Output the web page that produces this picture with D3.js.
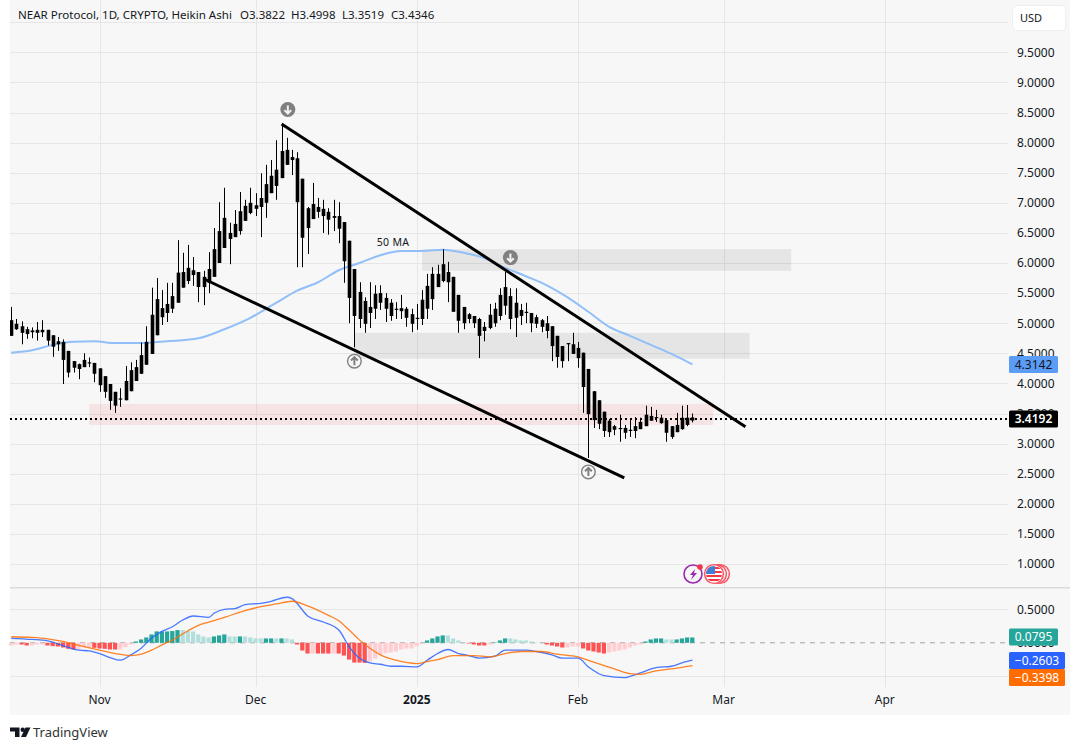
<!DOCTYPE html>
<html><head><meta charset="utf-8">
<script src="https://cdn.jsdelivr.net/npm/d3@7/dist/d3.min.js"></script>
<style>
html,body{margin:0;padding:0;background:#fff;overflow:hidden}
svg{display:block}
text{font-family:"Noto Sans",sans-serif;fill:#131722}
.tick line{shape-rendering:crispEdges}
</style></head><body><svg id="c" width="1080" height="750"></svg>
<script>
// Daily Heikin Ashi candles, day 0 = 2024-10-15
const high=[5.27,5.07,5.03,4.94,4.93,5.02,5.05,4.89,4.80,4.77,4.73,4.54,4.37,4.33,4.50,4.43,4.34,4.25,4.12,3.99,
3.86,3.92,4.29,4.35,4.39,4.68,4.95,5.59,5.75,5.55,5.67,5.67,6.38,6.17,6.30,6.10,5.85,5.87,6.18,6.58,
7.01,7.25,6.67,6.88,7.18,7.05,7.25,7.16,7.49,7.63,7.71,8.04,8.29,8.08,7.88,7.84,7.40,6.93,7.33,7.08,
7.05,6.91,7.05,7.01,6.68,6.37,5.90,5.68,5.43,5.68,5.63,5.63,5.50,5.40,5.35,5.47,5.27,5.24,5.32,5.55,
5.82,5.93,5.97,6.23,6.02,5.77,5.47,5.27,5.17,5.12,5.09,5.02,5.32,5.34,5.58,5.85,5.58,5.58,5.32,5.34,
5.17,5.14,5.07,5.12,4.95,4.79,4.62,4.67,4.84,4.69,4.51,4.24,3.87,3.72,3.53,3.41,3.31,3.48,3.31,3.39,
3.44,3.43,3.63,3.61,3.56,3.48,3.39,3.29,3.51,3.63,3.64,3.4998];
const low=[4.79,4.89,4.65,4.74,4.75,4.71,4.77,4.63,4.44,4.54,3.99,4.10,4.18,4.07,4.27,4.27,4.02,3.86,3.76,3.56,
3.51,3.61,3.72,3.87,4.04,4.16,4.31,4.49,4.80,4.97,5.02,5.17,5.34,5.59,5.65,5.62,5.35,5.30,5.50,5.77,
6.00,6.25,5.98,6.43,6.47,6.70,6.81,6.78,6.43,6.75,7.16,7.05,7.41,7.63,7.46,5.93,5.93,6.15,6.73,6.75,
6.50,6.47,6.53,6.33,5.67,5.00,4.60,4.92,4.84,4.92,5.07,5.22,5.02,5.04,5.07,5.07,4.94,4.85,4.89,4.97,
5.07,5.22,5.60,5.68,5.35,5.19,4.84,4.90,5.00,4.92,4.42,4.70,4.90,4.94,5.05,5.14,4.90,4.77,4.97,5.00,
4.85,4.92,4.85,4.75,4.37,4.26,4.26,4.37,4.49,4.26,3.51,2.76,3.26,3.24,3.11,3.11,3.14,3.03,3.08,3.11,
3.09,3.24,3.29,3.38,3.36,3.33,3.03,3.08,3.19,3.23,3.29,3.3519];
const bodyTop=[5.05,4.99,4.95,4.90,4.88,4.89,4.89,4.89,4.80,4.70,4.69,4.54,4.37,4.32,4.39,4.35,4.34,4.25,4.12,3.99,
3.86,3.75,4.04,4.22,4.27,4.47,4.69,5.14,5.40,5.25,5.32,5.45,5.84,5.85,5.92,5.88,5.85,5.77,5.90,6.23,
6.53,6.75,6.50,6.65,6.86,6.95,7.00,6.96,7.08,7.31,7.45,7.55,7.86,7.88,7.76,7.74,7.40,6.91,6.98,6.93,
6.90,6.85,6.78,6.78,6.68,6.37,5.90,5.52,5.37,5.27,5.49,5.50,5.42,5.34,5.24,5.25,5.24,5.15,5.09,5.39,
5.62,5.82,5.82,5.98,5.85,5.77,5.47,5.27,5.15,5.12,5.07,4.94,5.14,5.24,5.47,5.60,5.45,5.34,5.22,5.19,
5.17,5.10,5.05,5.00,4.95,4.79,4.62,4.67,4.65,4.59,4.51,4.24,3.87,3.72,3.53,3.38,3.29,3.26,3.26,3.23,
3.29,3.36,3.48,3.46,3.44,3.43,3.39,3.29,3.31,3.43,3.43,3.4346];
const bodyBottom=[4.79,4.90,4.84,4.82,4.85,4.84,4.85,4.71,4.61,4.65,4.39,4.18,4.26,4.24,4.27,4.33,4.16,3.97,3.86,3.71,
3.63,3.73,3.72,3.87,4.04,4.16,4.31,4.49,4.80,5.10,5.17,5.24,5.34,5.59,5.70,5.80,5.60,5.60,5.67,5.77,
6.00,6.25,6.40,6.43,6.53,6.70,6.83,6.90,6.93,7.00,7.16,7.28,7.41,7.63,7.71,7.01,6.42,6.58,6.73,6.85,
6.78,6.72,6.75,6.57,6.03,5.42,5.12,5.07,4.99,5.17,5.24,5.34,5.24,5.12,5.22,5.20,5.09,4.99,5.07,5.07,
5.24,5.40,5.60,5.70,5.68,5.19,5.04,5.00,5.07,5.00,4.79,4.87,4.92,5.00,5.12,5.29,5.07,5.09,5.12,5.17,
5.00,4.99,4.94,4.87,4.62,4.44,4.37,4.65,4.49,4.42,3.94,3.49,3.39,3.33,3.21,3.19,3.23,3.24,3.18,3.21,
3.21,3.24,3.29,3.38,3.43,3.34,3.18,3.11,3.19,3.24,3.31,3.3822];

// 50 MA readings
const maDay=[0,4,8,12,16,20,25,30,36,41,46,51,55,59,63,67,71,75,79,83,87,91,95,99,103,107,111,115,119,123,127,131];
const maValue=[4.51,4.55,4.64,4.69,4.70,4.67,4.67,4.70,4.75,4.90,5.09,5.34,5.54,5.68,5.88,6.00,6.13,6.20,6.20,6.22,6.17,6.08,5.92,5.78,5.63,5.43,5.19,4.94,4.79,4.64,4.49,4.3142];

// MACD pane
const macdDay=[0,4,7,11,13,15,17,19,21,23,25,27,29,31,33,35,38,39,41,43,45,48,50,53,54,56,57,60,63,65,67,69,71,73,75,78,80,82,84,86,88,90,93,95,99,101,104,106,109,111,114,118,119,121,124,127,129,131];
const macdValue=[.067,.05,.03,-.07,-.11,-.12,-.16,-.22,-.26,-.18,-.08,.07,.17,.24,.34,.40,.38,.44,.50,.51,.57,.59,.62,.68,.66,.49,.40,.31,.19,-.06,-.23,-.30,-.32,-.35,-.35,-.36,-.26,-.16,-.10,-.16,-.19,-.23,-.20,-.11,-.11,-.13,-.18,-.23,-.23,-.36,-.49,-.52,-.50,-.45,-.37,-.35,-.30,-.2603];
const signalDay=[0,4,7,10,13,17,20,23,25,27,29,31,34,36,38,41,45,48,51,54,57,61,63,65,67,69,71,74,78,80,82,85,89,92,95,98,102,105,109,112,116,119,121,124,127,131];
const signalValue=[.09,.08,.06,.02,-.04,-.11,-.16,-.19,-.17,-.11,-.03,.04,.18,.26,.31,.38,.48,.54,.58,.62,.55,.41,.33,.19,.04,-.08,-.18,-.26,-.31,-.28,-.25,-.19,-.19,-.21,-.16,-.13,-.13,-.17,-.21,-.29,-.39,-.46,-.47,-.42,-.39,-.3398];
const histValue=[-.04,-.025,-.025,-.04,-.04,-.025,-.025,-.04,-.05,-.055,-.07,-.09,-.10,-.10,-.065,-.065,-.075,-.085,-.09,-.10,
-.10,-.10,-.065,-.025,.02,.05,.08,.125,.17,.17,.17,.175,.19,.19,.175,.17,.125,.095,.08,.095,
.11,.125,.095,.095,.095,.095,.08,.065,.065,.065,.065,.065,.065,.065,.05,-.025,-.115,-.16,-.16,-.16,
-.16,-.16,-.16,-.16,-.19,-.25,-.295,-.295,-.30,-.28,-.235,-.18,-.155,-.145,-.13,-.10,-.085,-.085,-.05,-.015,
.035,.065,.095,.11,.11,.065,.035,.005,-.01,-.025,-.04,-.04,-.025,.005,.035,.065,.065,.05,.035,.035,
.02,.005,.005,-.025,-.04,-.055,-.07,-.07,-.055,-.055,-.085,-.115,-.13,-.145,-.16,-.145,-.13,-.115,-.10,-.07,
-.04,-.025,.02,.05,.065,.065,.05,.05,.05,.065,.08,.0795];
const histStrong=[0,0,1,1,0,0,0,1,1,1,1,1,1,0,0,0,1,1,1,1,1,0,0,0,1,1,1,1,1,1,1,1,1,0,0,0,0,0,0,1,1,1,0,0,1,0,0,0,0,1,1,0,1,0,0,1,1,1,0,1,1,1,0,1,1,1,1,1,1,0,0,0,0,0,0,0,0,0,0,0,
1,1,1,1,0,0,0,0,1,1,1,1,0,1,1,1,0,0,0,0,0,0,0,1,1,1,1,0,0,0,1,1,1,1,1,0,0,0,0,0,0,0,1,1,1,1,0,0,1,1,1,1];

// Tick labels
const priceTicks=[1,1.5,2,2.5,3,3.5,4,4.5,5,5.5,6,6.5,7,7.5,8,8.5,9,9.5,10];
const macdTicks=[0.5,-0.5];
const timeTicks=[["2024-11-01","Nov",false],["2024-12-01","Dec",false],["2025-01-01","2025",true],["2025-02-01","Feb",false],["2025-03-01","Mar",false],["2025-04-01","Apr",false]];

// Legend
const legendTitle="NEAR Protocol, 1D, CRYPTO, Heikin Ashi";
const legendValues=["O3.3822","H3.4998","L3.3519","C3.4346"];

// Drawings: [day, price]
const zoneUpper={days:[79,150],prices:[6.23,5.87]};
const zoneMiddle={days:[66,142],prices:[4.84,4.41]};
const zoneLower={days:[15,135],prices:[3.66,3.31]};
const trendUpper=[[52,8.31],[141.2,3.28]];
const trendLower=[[37.2,5.73],[117.9,2.43]];
const arrowsDown=[[53.2,8.55],[96,6.09]];
const arrowsUp=[[66,4.37],[111,2.53]];
const lastPrice=3.4192;

const svg=d3.select("#c");
const day0=Date.UTC(2024,9,15), toDate=d=>new Date(day0+d*864e5);
const x=d3.scaleUtc().domain([new Date(Date.UTC(2024,10,1)),new Date(Date.UTC(2025,3,1))]).range([99.6,884.8]);
const X=d=>x(toDate(d));
const y=d3.scaleLinear().domain([1,9.5]).range([564,52.3]);
const yM=d3.scaleLinear().domain([-0.5,0.5]).range([676.3,609.3]);
const L=10,R=1008,AX=1070;

svg.append("rect").attr("x",L).attr("y",0).attr("width",AX-L).attr("height",715).attr("fill","#f7f7f7");
const defs=svg.append("defs");
defs.append("clipPath").attr("id","upperClip").append("rect").attr("x",L).attr("y",0).attr("width",R-L+40).attr("height",587);
const root=svg.append("g");

// grid
const gridC="#e6e6e6";
const gx=root.append("g").attr("transform","translate(0,0)")
 .call(d3.axisBottom(x).tickValues(timeTicks.map(t=>new Date(t[0]+"T00:00:00Z"))).tickSize(687).tickFormat(""));
gx.select(".domain").remove(); gx.selectAll("line").attr("stroke",gridC);
const gy=root.append("g").attr("transform",`translate(${R},0)`)
 .call(d3.axisLeft(y).tickValues(priceTicks).tickSize(R-L).tickFormat(""));
gy.select(".domain").remove(); gy.selectAll("line").attr("stroke",gridC);
const gyM=root.append("g").attr("transform",`translate(${R},0)`)
 .call(d3.axisLeft(yM).tickValues(macdTicks).tickSize(R-L).tickFormat(""));
gyM.select(".domain").remove(); gyM.selectAll("line").attr("stroke",gridC);

// zones
[[zoneUpper,"#000",0.07],[zoneMiddle,"#000",0.07],[zoneLower,"#f23645",0.1]].forEach(([z,c,o])=>{
 root.append("rect").attr("x",X(z.days[0])).attr("width",X(z.days[1])-X(z.days[0]))
  .attr("y",y(z.prices[0])).attr("height",y(z.prices[1])-y(z.prices[0])).attr("fill",c).attr("opacity",o);
});

const upper=root.append("g").attr("clip-path","url(#upperClip)");
// last price dotted
upper.append("line").attr("x1",L).attr("x2",R).attr("y1",y(lastPrice)+.6).attr("y2",y(lastPrice)+.6)
 .attr("stroke","#000").attr("stroke-width",2).attr("stroke-dasharray","2 3");

// MA
upper.append("path").datum(maDay.map((d,i)=>[d,maValue[i]]))
 .attr("d",d3.line().x(d=>X(d[0])).y(d=>y(d[1])).curve(d3.curveMonotoneX))
 .attr("fill","none").attr("stroke","#90bff9").attr("stroke-width",2);

// candles
const idx=d3.range(high.length);
upper.append("g").selectAll("line").data(idx).join("line")
 .attr("x1",i=>Math.round(X(i))+.5).attr("x2",i=>Math.round(X(i))+.5)
 .attr("y1",i=>y(high[i])).attr("y2",i=>y(low[i])).attr("stroke","#000").attr("stroke-width",1);
upper.append("g").selectAll("rect").data(idx).join("rect")
 .attr("x",i=>Math.round(X(i))+.5-1.8).attr("width",3.6)
 .attr("y",i=>y(bodyTop[i])).attr("height",i=>Math.max(1,y(bodyBottom[i])-y(bodyTop[i]))).attr("fill","#000");

// trend lines
[trendUpper,trendLower].forEach(t=>{
 upper.append("line").attr("x1",X(t[0][0])).attr("y1",y(t[0][1])).attr("x2",X(t[1][0])).attr("y2",y(t[1][1]))
  .attr("stroke","#000").attr("stroke-width",3);
});

// arrows
const arrowPath=(dir)=>`M0,${-4*dir}V${4*dir}M${-3.4},${.6*dir}L0,${4*dir}L3.4,${.6*dir}`;
arrowsDown.forEach(a=>{
 const g=upper.append("g").attr("transform",`translate(${X(a[0])},${y(a[1])})`);
 g.append("circle").attr("r",7.5).attr("fill","#808080");
 g.append("path").attr("d",arrowPath(1)).attr("stroke","#f2f2f2").attr("stroke-width",2).attr("fill","none");
});
arrowsUp.forEach(a=>{
 const g=upper.append("g").attr("transform",`translate(${X(a[0])},${y(a[1])})`);
 g.append("circle").attr("r",6.8).attr("fill","#f7f7f7").attr("stroke","#808080").attr("stroke-width",1.4);
 g.append("path").attr("d",arrowPath(-1)).attr("stroke","#808080").attr("stroke-width",2).attr("fill","none");
});
root.append("text").attr("x",393).attr("y",246).attr("text-anchor","middle").attr("font-size",10.5).attr("letter-spacing",".3").text("50 MA");

// event icons
const ev=root.append("g");
ev.append("circle").attr("cx",693).attr("cy",574).attr("r",9).attr("fill","#f7f7f7").attr("stroke","#9c27b0").attr("stroke-width",1.6);
ev.append("path").attr("d","M695,569L690,575H693L691,580L697,573H694Z").attr("fill","#9c27b0");
ev.append("circle").attr("cx",700).attr("cy",567).attr("r",2.8).attr("fill","#f23645");
[720,717,714].forEach(cx=>ev.append("circle").attr("cx",cx).attr("cy",574).attr("r",9.4).attr("fill","#fbeeee").attr("stroke","#f7525f").attr("stroke-width",1.4));
const flag=ev.append("g");
flag.append("clipPath").attr("id","fl").append("circle").attr("cx",714).attr("cy",574).attr("r",8);
const fg=flag.append("g").attr("clip-path","url(#fl)");
fg.append("rect").attr("x",705).attr("y",565).attr("width",18).attr("height",18).attr("fill","#fff");
[567,571,575,579].forEach(yy=>fg.append("rect").attr("x",705).attr("y",yy).attr("width",18).attr("height",2).attr("fill","#f23645"));
fg.append("rect").attr("x",705).attr("y",565).attr("width",10).attr("height",9).attr("fill","#3f7fd6");

// pane separator
root.append("rect").attr("x",L).attr("y",587).attr("width",AX-L).attr("height",1.4).attr("fill","#d9d9de");

// MACD
root.append("line").attr("x1",L).attr("x2",R).attr("y1",yM(0)).attr("y2",yM(0)).attr("stroke","#a3a3a3").attr("stroke-dasharray","5 5");
const histColor=i=>histValue[i]>=0?(histStrong[i]?"#26a69a":"#b2dfdb"):(histStrong[i]?"#ff5252":"#ffcdd2");
root.append("g").selectAll("rect").data(histValue.map((_,i)=>i)).join("rect")
 .attr("x",i=>X(i)-2.2).attr("width",4.2)
 .attr("y",i=>Math.min(yM(0),yM(histValue[i]))).attr("height",i=>Math.abs(yM(histValue[i])-yM(0)))
 .attr("fill",histColor);
const lineM=d3.line().x(d=>X(d[0])).y(d=>yM(d[1])).curve(d3.curveMonotoneX);
root.append("path").datum(macdDay.map((d,i)=>[d,macdValue[i]])).attr("d",lineM).attr("fill","none").attr("stroke","#2962ff").attr("stroke-width",1.3).attr("opacity",.85);
root.append("path").datum(signalDay.map((d,i)=>[d,signalValue[i]])).attr("d",lineM).attr("fill","none").attr("stroke","#ff6d00").attr("stroke-width",1.3).attr("opacity",.85);

// axes labels
const ay=root.append("g").attr("transform","translate(1011,0)")
 .call(d3.axisRight(y).tickValues(priceTicks.filter(t=>t<10)).tickSize(0).tickPadding(6).tickFormat(d3.format(".4f")));
const ayM=root.append("g").attr("transform","translate(1011,0)")
 .call(d3.axisRight(yM).tickValues([0.5,0]).tickSize(0).tickPadding(6).tickFormat(d3.format(".4f")));
[ay,ayM].forEach(a=>{a.select(".domain").remove();a.selectAll("text").attr("font-size",12).attr("font-family",'"Noto Sans",sans-serif').attr("fill","#131722");});
const ax=root.append("g").attr("transform","translate(-0.5,692)")
 .call(d3.axisBottom(x).tickValues(timeTicks.map(t=>new Date(t[0]+"T00:00:00Z"))).tickSize(0).tickPadding(3)
 .tickFormat((d,i)=>timeTicks[i][1]));
ax.select(".domain").remove();
ax.selectAll("text").attr("font-size",12).attr("font-family",'"Noto Sans",sans-serif').attr("fill","#131722")
 .attr("font-weight",(d,i)=>timeTicks[i][2]?700:400);

// tags
const tag=(x0,w,yc,fill,label,textColor,bold)=>{
 root.append("rect").attr("x",x0).attr("y",yc-8.5).attr("width",w).attr("height",17).attr("rx",1.5).attr("fill",fill);
 root.append("text").attr("x",x0+w/2).attr("y",yc+4.3).attr("text-anchor","middle").attr("font-size",12).attr("font-weight",bold?600:400).style("fill",textColor).text(label);
};
tag(1009,49,y(4.3142),"#5b9cf6","4.3142","#131722");
tag(1009,49,y(lastPrice)+.6,"#000","3.4192","#fff",true);
tag(1009,49,637,"#26a69a","0.0795","#fff");
tag(1009,56,660.5,"#2962ff","\u22120.2603","#fff");
tag(1009,56,677.5,"#ff6d00","\u22120.3398","#fff");

// USD button
root.append("rect").attr("x",1012.5).attr("y",5.5).attr("width",53).attr("height",25).attr("rx",4).attr("fill","#fff").attr("stroke","#eceff2");
root.append("text").attr("x",1031).attr("y",22).attr("text-anchor","middle").attr("font-size",11).text("USD");

// legend
root.append("text").attr("x",18).attr("y",19).attr("font-size",11.55).text(legendTitle);
const legendX=[240,291,342,391];
legendValues.forEach((t,i)=>root.append("text").attr("x",legendX[i]).attr("y",19).attr("font-size",11.5).text(t));

// logo
const logo=svg.append("g").attr("fill","#131722");
logo.append("path").attr("d","M10,727.5H19.5V737H15V731.5H10Z");
logo.append("circle").attr("cx",22.7).attr("cy",729.7).attr("r",2.2);
logo.append("path").attr("d","M25.5,727.5H30.5L26,737H21Z");
svg.append("text").attr("x",33).attr("y",737).attr("font-size",13).style("fill","#333").text("TradingView");
</script></body></html>
